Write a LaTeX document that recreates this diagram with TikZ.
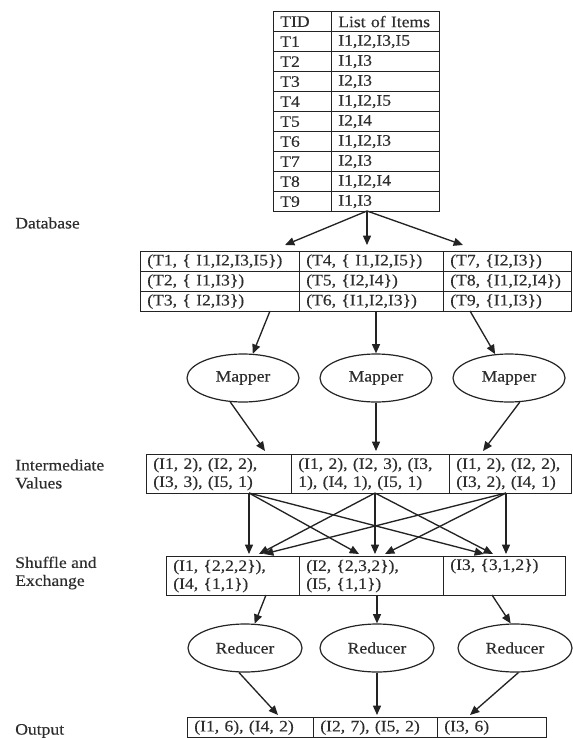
\documentclass[tikz,border=0pt]{standalone}
\usepackage{fontspec}
\setmainfont{Liberation Serif}[FakeStretch=1.1, FakeBold=0.3]
\usetikzlibrary{shapes.geometric,arrows.meta}
\definecolor{ink}{RGB}{35,35,35}
\definecolor{inktext}{RGB}{45,45,45}

\begin{document}
\begin{tikzpicture}[
    x=0.75pt, y=-0.75pt,
    font=\fontsize{12}{13.5}\selectfont,
    cell/.style={draw=ink, line width=0.9pt, anchor=north west, align=left,
                 inner xsep=5pt, inner ysep=0pt, minimum height=15pt, text=inktext},
    worker/.style={draw=ink, line width=0.9pt, ellipse, inner sep=0pt,
                   minimum height=36pt, text=inktext},
    lbl/.style={anchor=west, align=left, inner sep=0pt, text=inktext},
    arr/.style={-{Triangle[length=7pt,width=6pt]}, draw=ink, line width=1pt}
]
  \useasboundingbox (0,0) rectangle (572,738);

  % Database
  \foreach \tid/\items [count=\r from 0] in {TID/List of Items, T1/{I1,I2,I3,I5},
      T2/{I1,I3}, T3/{I2,I3}, T4/{I1,I2,I5}, T5/{I2,I4}, T6/{I1,I2,I3},
      T7/{I2,I3}, T8/{I1,I2,I4}, T9/{I1,I3}}
  {
    \node[cell, text width=33.5pt] (tid\r) at (273,11+20*\r) {\tid};
    \node[cell, text width=71pt] (items\r) at (331,11+20*\r) {\items};
  }
  \node[lbl] (dblabel) at (15,223) {Database};

  % Split of the database
  \node[cell, text width=109.25pt] (db1) at (140,251) {(T1, \{ I1,I2,I3,I5\})};
  \node[cell, text width=109.25pt] (db2) at (140,271) {(T2, \{ I1,I3\})};
  \node[cell, text width=109.25pt] (db3) at (140,291) {(T3, \{ I2,I3\})};
  \node[cell, text width=98pt] (db4) at (299,251) {(T4, \{ I1,I2,I5\})};
  \node[cell, text width=98pt] (db5) at (299,271) {(T5, \{I2,I4\})};
  \node[cell, text width=98pt] (db6) at (299,291) {(T6, \{I1,I2,I3\})};
  \node[cell, text width=86pt] (db7) at (443,251) {(T7, \{I2,I3\})};
  \node[cell, text width=86pt] (db8) at (443,271) {(T8, \{I1,I2,I4\})};
  \node[cell, text width=86pt] (db9) at (443,291) {(T9, \{I1,I3\})};

  \coordinate (fan) at (367,211);
  \coordinate (dbin1) at (285,245);
  \coordinate (dbin2) at (367,245);
  \coordinate (dbin3) at (463,245);
  \foreach \t in {dbin1,dbin2,dbin3}
    \draw[arr] (fan) -- (\t);

  % Mappers
  \node[worker, minimum width=84pt] (map1) at (243,378) {Mapper};
  \node[worker, minimum width=84pt] (map2) at (376,378) {Mapper};
  \node[worker, minimum width=84pt] (map3) at (509,378) {Mapper};

  \coordinate (dbout1) at (270,311);
  \coordinate (dbout2) at (376,311);
  \coordinate (dbout3) at (470,311);
  \draw[arr] (dbout1) -- (map1);
  \draw[arr] (dbout2) -- (map2);
  \draw[arr] (dbout3) -- (map3);

  % Intermediate values
  \node[cell, text width=98.75pt, minimum height=29.25pt] (iv1) at (146,454)
       {(I1, 2), (I2, 2),\\(I3, 3), (I5, 1)};
  \node[cell, text width=108.5pt, minimum height=29.25pt] (iv2) at (291,454)
       {(I1, 2), (I2, 3), (I3,\\1), (I4, 1), (I5, 1)};
  \node[cell, text width=81.5pt, minimum height=29.25pt] (iv3) at (449,454)
       {(I1, 2), (I2, 2),\\(I3, 2), (I4, 1)};
  \node[lbl] (ivlabel) at (15,474) {Intermediate\\Values};

  \coordinate (ivin1) at (265,451);
  \coordinate (ivin2) at (376,451);
  \coordinate (ivin3) at (483,451);
  \draw[arr] (map1.-118) -- (ivin1);
  \draw[arr] (map2) -- (ivin2);
  \draw[arr] (map3.-66) -- (ivin3);

  % Shuffle and exchange
  \node[cell, text width=89.75pt, minimum height=29.25pt] (sh1) at (166,556)
       {(I1, \{2,2,2\}),\\(I4, \{1,1\})};
  \node[cell, text width=98pt, minimum height=29.25pt] (sh2) at (299,556)
       {(I2, \{2,3,2\}),\\(I5, \{1,1\})};
  \node[cell, text width=81.5pt, minimum height=29.25pt] (sh3) at (443,556)
       {(I3, \{3,1,2\})\\\strut};
  \node[lbl] (shlabel) at (15,573) {Shuffle and\\Exchange};

  \coordinate (ivout1) at (249,493);
  \coordinate (ivout2) at (375,493);
  \coordinate (ivout3) at (506,493);
  \coordinate (sh1a) at (249,554);
  \coordinate (sh1b) at (259,554);
  \coordinate (sh1c) at (264,554);
  \coordinate (sh2a) at (359,554);
  \coordinate (sh2b) at (375,554);
  \coordinate (sh2c) at (385,554);
  \coordinate (sh3a) at (484,554);
  \coordinate (sh3b) at (493,554);
  \coordinate (sh3c) at (506,554);
  \foreach \s/\t in {ivout1/sh1a, ivout1/sh2a, ivout1/sh3a,
                     ivout2/sh1b, ivout2/sh2b, ivout2/sh3b,
                     ivout3/sh1c, ivout3/sh2c, ivout3/sh3c}
    \draw[arr] (\s) -- (\t);

  % Reducers
  \node[worker, minimum width=85.5pt] (red1) at (245,648) {Reducer};
  \node[worker, minimum width=85.5pt] (red2) at (377,648) {Reducer};
  \node[worker, minimum width=85.5pt] (red3) at (515,648) {Reducer};

  \coordinate (shout1) at (266,595);
  \coordinate (shout2) at (377,595);
  \coordinate (shout3) at (492,595);
  \draw[arr] (shout1) -- (red1);
  \draw[arr] (shout2) -- (red2);
  \draw[arr] (shout3) -- (red3.100);

  % Output
  \node[cell, text width=84.5pt] (out1) at (187,717) {(I1, 6), (I4, 2)};
  \node[cell, text width=83pt] (out2) at (313,717) {(I2, 7), (I5, 2)};
  \node[cell, text width=71.75pt] (out3) at (437,717) {(I3, 6)};
  \node[lbl] (outlabel) at (15,731) {Output};

  \coordinate (outin1) at (278,715);
  \coordinate (outin2) at (377,715);
  \coordinate (outin3) at (470,715);
  \draw[arr] (red1.-104) -- (outin1);
  \draw[arr] (red2) -- (outin2);
  \draw[arr] (red3.-82) -- (outin3);
\end{tikzpicture}
\end{document}
